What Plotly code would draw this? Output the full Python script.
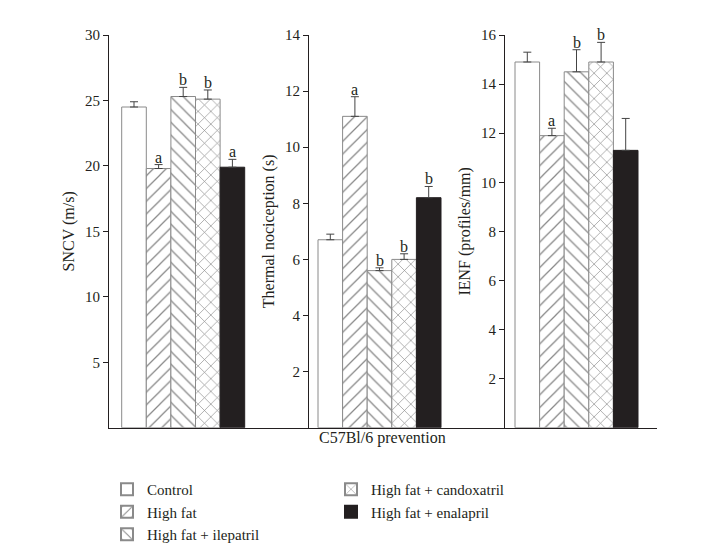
import plotly.graph_objects as go

categories = ["Control", "High fat", "High fat + ilepatril",
              "High fat + candoxatril", "High fat + enalapril"]

sncv = [24.5, 19.8, 25.3, 25.1, 19.9]
sncv_err = [0.4, 0.3, 0.7, 0.7, 0.6]
sncv_sig = ["", "a", "b", "b", "a"]

thermal = [6.7, 11.1, 5.6, 6.0, 8.2]
thermal_err = [0.2, 0.7, 0.1, 0.2, 0.4]
thermal_sig = ["", "a", "b", "b", "b"]

ienf = [14.9, 11.9, 14.5, 14.9, 11.3]
ienf_err = [0.4, 0.3, 0.9, 0.8, 1.3]
ienf_sig = ["", "a", "b", "b", ""]

panel_titles = ["SNCV (m/s)", "Thermal nociception (s)", "IENF (profiles/mm)"]
panel_ticks = [[5, 10, 15, 20, 25, 30], [2, 4, 6, 8, 10, 12, 14],
               [2, 4, 6, 8, 10, 12, 14, 16]]
panel_max = [30, 14, 16]
x_title = "C57Bl/6 prevention"

W, H = 720, 546
OFF = 8  # page body margin in the browser
FONT = "Liberation Serif"
INK = "#231f20"
EDGE = "#8a8a8a"

patterns = ["", "/", "\\", "x", ""]
fills = ["white", "white", "white", "white", INK]
edges = [EDGE, EDGE, EDGE, EDGE, INK]

panels = [(sncv, sncv_err, sncv_sig), (thermal, thermal_err, thermal_sig),
          (ienf, ienf_err, ienf_sig)]

# pixel layout of panels (screen pixels, corrected by OFF)
axis_px = [109 - OFF, 309 - OFF, 505 - OFF, 657 - OFF]
first_bar_gap = [12.7, 9.0, 10.0]
bar_px = 24.6
y0_px, ytop_px = 427.7 - OFF, 35 - OFF

def px_x(v):
    return (v - OFF) / W

def px_y(v):
    return (H - (v - OFF)) / H

fig = go.Figure()
annotations = []
for p, (vals, errs, sigs) in enumerate(panels):
    xa = "x" if p == 0 else f"x{p+1}"
    ya = "y" if p == 0 else f"y{p+1}"
    for i, cat in enumerate(categories):
        fig.add_trace(go.Bar(
            x=[i], y=[vals[i]], width=1, name=cat, xaxis=xa, yaxis=ya,
            marker=dict(color=fills[i], line=dict(color=edges[i], width=1),
                        pattern=dict(shape=patterns[i], fgcolor="#111", bgcolor="white",
                                     size=9, solidity=0.14)),
            error_y=dict(type="data", array=[errs[i]], arrayminus=[0], symmetric=False,
                         color="#444", thickness=1, width=4),
            legendgroup=cat, showlegend=(p == 0),
            legend="legend" if i < 3 else "legend2",
        ))
        if sigs[i]:
            annotations.append(dict(
                x=i, y=vals[i] + errs[i], xref=xa, yref=ya, text=sigs[i],
                showarrow=False, yanchor="bottom", yshift=-3,
                font=dict(family=FONT, size=16, color=INK)))

layout = dict(
    width=W, height=H, paper_bgcolor="white", plot_bgcolor="white",
    margin=dict(l=0, r=0, t=0, b=0, autoexpand=False), barmode="overlay",
    showlegend=True,
    font=dict(family=FONT, size=15, color=INK),
)
ydom = [(H - y0_px) / H, (H - ytop_px) / H]
for p in range(3):
    left, right = axis_px[p], axis_px[p + 1]
    lo = -0.5 - first_bar_gap[p] / bar_px
    hi = lo + (right - left) / bar_px
    key = "" if p == 0 else str(p + 1)
    layout["xaxis" + key] = dict(
        domain=[left / W, right / W], range=[lo, hi], showline=True,
        linecolor=INK, linewidth=1, showticklabels=False, ticks="",
        showgrid=False, zeroline=False, anchor="y" + key,
        fixedrange=True, automargin=False)
    layout["yaxis" + key] = dict(
        domain=ydom, range=[0, panel_max[p]], tickvals=panel_ticks[p],
        showline=True, linecolor=INK, linewidth=1, ticks="outside",
        ticklen=5, tickcolor=INK, showgrid=False, zeroline=False,
        anchor="x" + key, tickfont=dict(size=15), automargin=False,
        title=dict(text=panel_titles[p], font=dict(size=16), standoff=6))

annotations.append(dict(
    x=px_x(382), y=px_y(438), xref="paper", yref="paper",
    xanchor="center", yanchor="middle",
    text=x_title, showarrow=False, font=dict(family=FONT, size=16, color=INK)))

layout["annotations"] = annotations
legend_common = dict(yanchor="top", xanchor="left", font=dict(size=15),
                     bgcolor="rgba(0,0,0,0)", tracegroupgap=0, itemsizing="constant")
layout["legend"] = dict(x=px_x(107), y=px_y(473), **legend_common)
layout["legend2"] = dict(x=px_x(331), y=px_y(473), **legend_common)
fig.update_layout(**layout)
fig.write_html("out.html")
